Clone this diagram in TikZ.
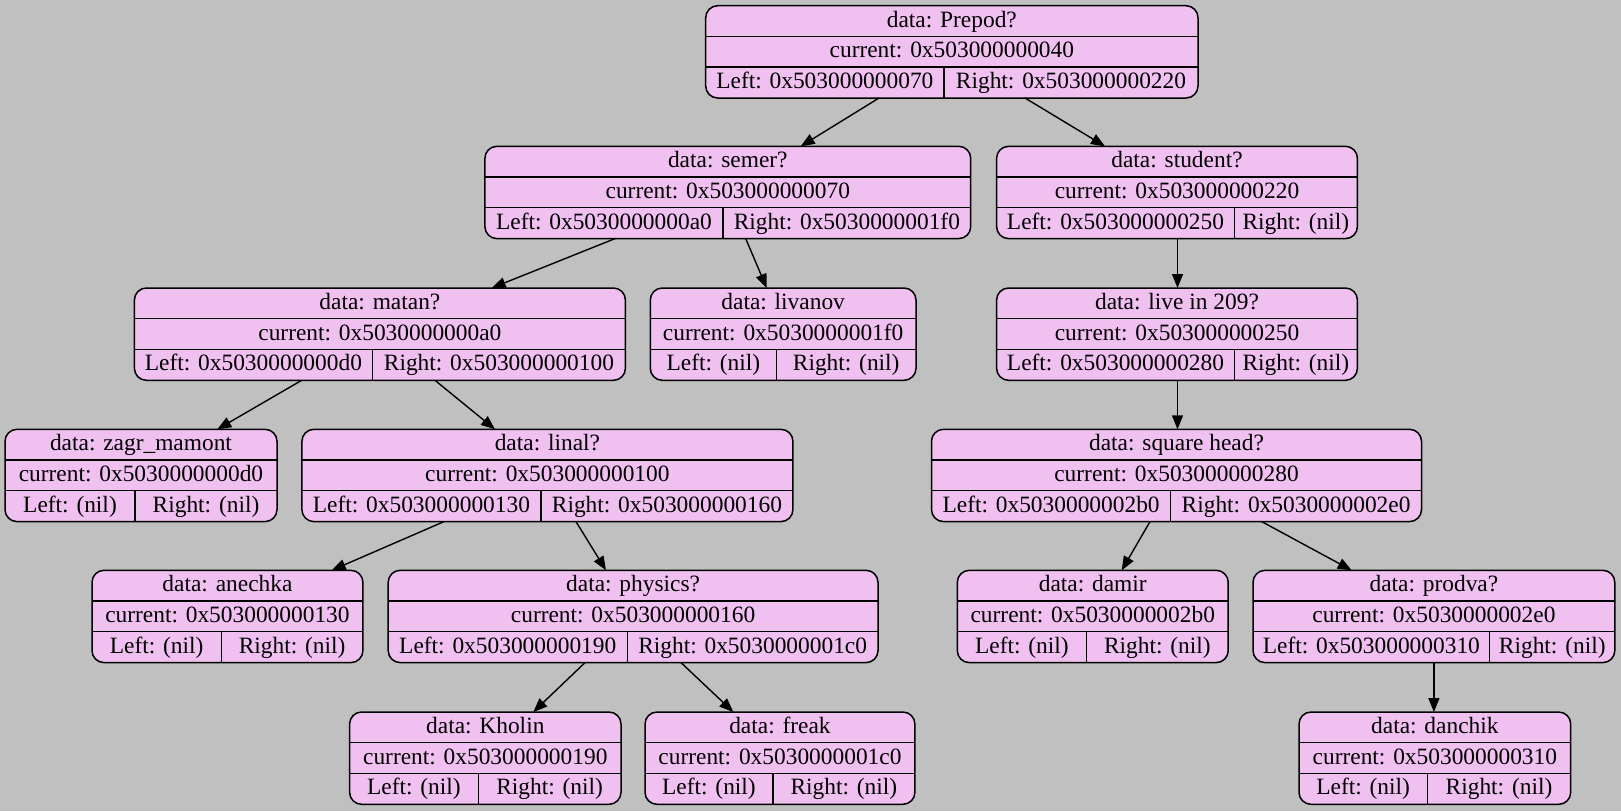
\documentclass[tikz,border=0pt]{standalone}
\usepackage{fontspec}
\setmainfont{Liberation Serif}
\usetikzlibrary{arrows.meta,calc}
\definecolor{bgcol}{HTML}{C0C0C0}
\definecolor{recfill}{HTML}{F0C0F0}
\tikzset{
  recbox/.style={draw=black, line width=0.75pt, fill=recfill, rounded corners=6pt, inner sep=0pt, outer sep=0pt},
  recline/.style={draw=black, line width=0.65pt},
  rectext/.style={font=\fontsize{11.7}{14}\selectfont, inner sep=0pt, text height=7.6pt, text depth=2.4pt},
  conn/.style={draw=black, line width=0.7pt, -{Triangle[length=7pt,width=5.5pt]}}
}
\newcommand\rec[9]{%
  \pgfmathsetmacro\rw{(#3-#2)*0.5}%
  \pgfmathsetmacro\rcx{(#2+#3)/2}%
  \pgfmathsetmacro\rcy{#4+46.15}%
  \pgfmathsetmacro\ra{#4+30.6}%
  \pgfmathsetmacro\rb{#4+61.2}%
  \pgfmathsetmacro\rbot{#4+92.3}%
  \pgfmathsetmacro\ta{#4+16.3}%
  \pgfmathsetmacro\tb{#4+46.9}%
  \pgfmathsetmacro\tc{#4+77.7}%
  \pgfmathsetmacro\lx{(#2+#5)/2}%
  \pgfmathsetmacro\rx{(#5+#3)/2}%
  \node[recbox, minimum width=\rw pt, minimum height=46.15pt] (#1) at (\rcx,\rcy) {};
  \draw[recline] (#2,\ra) -- (#3,\ra);
  \draw[recline] (#2,\rb) -- (#3,\rb);
  \draw[recline] (#5,\rb) -- (#5,\rbot);
  \node[rectext] (#1t) at (\rcx,\ta) {#6};
  \node[rectext] (#1c) at (\rcx,\tb) {#7};
  \node[rectext] (#1l) at (\lx,\tc) {#8};
  \node[rectext] (#1r) at (\rx,\tc) {#9};
}
\begin{document}
\begin{tikzpicture}[x=0.5pt,y=-0.5pt]
\fill[bgcol] (0,0) rectangle (1621,811);
\useasboundingbox (0,0) rectangle (1621,811);
% level tops: 5.7, 146.3, 288, 429.3, 570.3, 712
\rec{prepod}{705.7}{1198}{5.7}{944}{data: Prepod?}{current: 0x503000000040}{Left: 0x503000000070}{Right: 0x503000000220}
\rec{semer}{484.9}{970.7}{146.3}{723}{data: semer?}{current: 0x503000000070}{Left: 0x5030000000a0}{Right: 0x5030000001f0}
\rec{student}{996.6}{1357.4}{146.3}{1234.4}{data: student?}{current: 0x503000000220}{Left: 0x503000000250}{Right: (nil)}
\rec{matan}{134.4}{625.4}{288}{372.5}{data: matan?}{current: 0x5030000000a0}{Left: 0x5030000000d0}{Right: 0x503000000100}
\rec{livanov}{650.3}{916}{288}{776.4}{data: livanov}{current: 0x5030000001f0}{Left: (nil)}{Right: (nil)}
\rec{live}{996.6}{1357.4}{288}{1234.4}{data: live in 209?}{current: 0x503000000250}{Left: 0x503000000280}{Right: (nil)}
\rec{zagr}{5}{277}{429.3}{135}{data: zagr\_mamont}{current: 0x5030000000d0}{Left: (nil)}{Right: (nil)}
\rec{linal}{301.9}{792.9}{429.3}{541}{data: linal?}{current: 0x503000000100}{Left: 0x503000000130}{Right: 0x503000000160}
\rec{square}{931.5}{1421.5}{429.3}{1170.7}{data: square head?}{current: 0x503000000280}{Left: 0x5030000002b0}{Right: 0x5030000002e0}
\rec{anechka}{92}{362.9}{570.3}{221.2}{data: anechka}{current: 0x503000000130}{Left: (nil)}{Right: (nil)}
\rec{physics}{388.2}{878}{570.3}{627.3}{data: physics?}{current: 0x503000000160}{Left: 0x503000000190}{Right: 0x5030000001c0}
\rec{damir}{957.3}{1228.2}{570.3}{1086.5}{data: damir}{current: 0x5030000002b0}{Left: (nil)}{Right: (nil)}
\rec{prodva}{1253}{1614.8}{570.3}{1489.7}{data: prodva?}{current: 0x5030000002e0}{Left: 0x503000000310}{Right: (nil)}
\rec{kholin}{349.6}{621}{712}{478.2}{data: Kholin}{current: 0x503000000190}{Left: (nil)}{Right: (nil)}
\rec{freak}{645}{914.9}{712}{772.9}{data: freak}{current: 0x5030000001c0}{Left: (nil)}{Right: (nil)}
\rec{danchik}{1299}{1570.7}{712}{1427.3}{data: danchik}{current: 0x503000000310}{Left: (nil)}{Right: (nil)}
% connectors
\draw[conn] ($(prepod.south west)+(173.3,0)$) -- ($(semer.north west)+(315.8,0)$);
\draw[conn] ($(prepod.south west)+(319.3,0)$) -- ($(student.north west)+(108.4,0)$);
\draw[conn] ($(semer.south west)+(130.1,0)$) -- ($(matan.north west)+(357.3,0)$);
\draw[conn] ($(semer.south west)+(260.8,0)$) -- ($(livanov.north west)+(116.4,0)$);
\draw[conn] ($(student.south west)+(180.9,0)$) -- ($(live.north west)+(180.9,0)$);
\draw[conn] ($(matan.south west)+(167.3,0)$) -- ($(zagr.north west)+(212.3,0)$);
\draw[conn] ($(matan.south west)+(300.6,0)$) -- ($(linal.north west)+(193.1,0)$);
\draw[conn] ($(live.south west)+(180.9,0)$) -- ($(square.north west)+(246,0)$);
\draw[conn] ($(linal.south west)+(142.1,0)$) -- ($(anechka.north west)+(239.7,0)$);
\draw[conn] ($(linal.south west)+(274.1,0)$) -- ($(physics.north west)+(217.8,0)$);
\draw[conn] ($(square.south west)+(218.5,0)$) -- ($(damir.north west)+(164.4,0)$);
\draw[conn] ($(square.south west)+(330.2,0)$) -- ($(prodva.north west)+(98.7,0)$);
\draw[conn] ($(physics.south west)+(196.8,0)$) -- ($(kholin.north west)+(183.7,0)$);
\draw[conn] ($(physics.south west)+(292.8,0)$) -- ($(freak.north west)+(88.3,0)$);
\draw[conn] ($(prodva.south west)+(180.9,0)$) -- ($(danchik.north west)+(134.9,0)$);
\end{tikzpicture}
\end{document}
